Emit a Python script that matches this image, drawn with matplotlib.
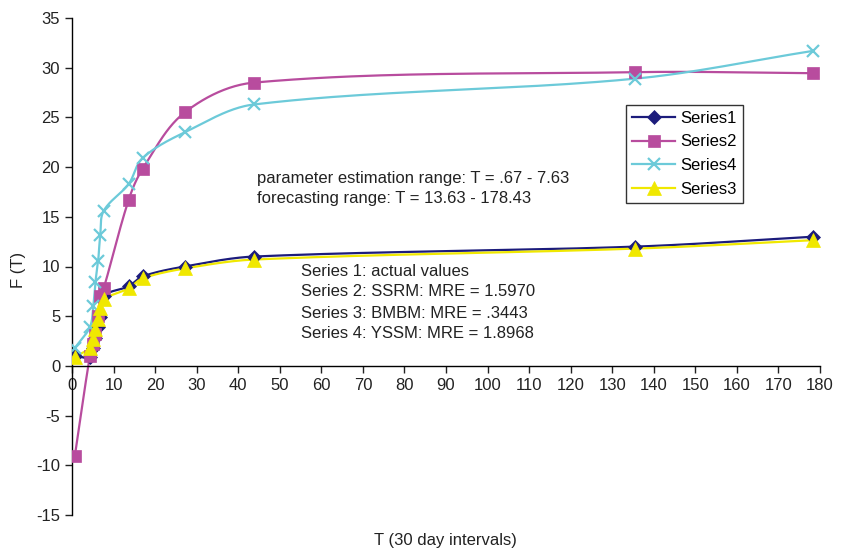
#!/usr/bin/env python3
"""
forecast comparison plot

actual values vs three fitted models
"""

import numpy as np
import matplotlib
matplotlib.use('Agg')
import matplotlib.pyplot as plt

plt.rcParams['font.family'] = ['Liberation Sans', 'DejaVu Sans']
plt.rcParams['axes.unicode_minus'] = False

t_values = [0.67, 4.3, 5.13, 5.63, 6.3, 6.8, 7.63,
            13.63, 16.97, 27.13, 43.77, 135.6, 178.43]
series1 = [1.0, 0.9, 1.8, 2.8, 3.9, 4.9, 7.0,
           8.0, 9.0, 10.0, 11.0, 12.0, 13.0]
series2 = [-9.1, 1.0, 2.2, 3.2, 5.0, 7.0, 7.8,
           16.7, 19.8, 25.5, 28.5, 29.55, 29.45]
series4 = [1.8, 3.9, 6.05, 8.4, 10.6, 13.2, 15.6,
           18.3, 20.9, 23.5, 26.3, 28.9, 31.7]
series3 = [0.9, 1.8, 2.7, 3.7, 4.7, 5.8, 6.7,
           7.8, 8.8, 9.8, 10.7, 11.8, 12.65]

notes_top = ['parameter estimation range: T = .67 - 7.63',
             'forecasting range: T = 13.63 - 178.43']
notes_bottom = ['Series 1: actual values',
                'Series 2: SSRM: MRE = 1.5970',
                'Series 3: BMBM: MRE = .3443',
                'Series 4: YSSM: MRE = 1.8968']

# pixel per data unit, used so smoothing happens in screen space
SX, SY = 748 / 180, 497 / 50


def smooth(x, y, steps=40):
    """
    bezier curve through the points, tangents from neighbours,
    handle length proportional to segment length (screen space)
    """
    p = np.column_stack([np.asarray(x, float) * SX, np.asarray(y, float) * SY])
    n = len(p)
    tang = np.zeros_like(p)
    for i in range(n):
        a = p[max(i - 1, 0)]
        b = p[min(i + 1, n - 1)]
        d = b - a
        tang[i] = d / np.hypot(*d)
    s = np.linspace(0, 1, steps)[:, None]
    pts = []
    for i in range(n - 1):
        p1, p2 = p[i], p[i + 1]
        seg = np.hypot(*(p2 - p1))
        c1 = p1 + tang[i] * seg / 3
        c2 = p2 - tang[i + 1] * seg / 3
        b = ((1 - s) ** 3 * p1 + 3 * (1 - s) ** 2 * s * c1
             + 3 * (1 - s) * s ** 2 * c2 + s ** 3 * p2)
        pts.append(b)
    pts = np.vstack(pts)
    return pts[:, 0] / SX, pts[:, 1] / SY


W, H = 843, 548
fig = plt.figure(figsize=(W / 100, H / 100), dpi=100)
ax = fig.add_axes([72 / W, 1 - 515 / H, 748 / W, 497 / H])

styles = [
    ('Series1', series1, '#1c1c7c', 'D', 7),
    ('Series2', series2, '#b84c9e', 's', 8),
    ('Series4', series4, '#6ccad9', 'x', 9),
    ('Series3', series3, '#f0e800', '^', 10),
]

for name, vals, color, marker, msize in styles:
    sx, sy = smooth(t_values, vals)
    mew = 1.6 if marker == 'x' else 0.5
    ax.plot(sx, sy, color=color, lw=1.6, zorder=2)
    ax.plot(t_values, vals, linestyle='none', marker=marker, markersize=msize,
            color=color, markeredgewidth=mew, zorder=3)
    ax.plot([], [], color=color, lw=1.6, marker=marker, markersize=msize,
            markeredgewidth=mew, label=name)

ax.set_xlim(0, 180)
ax.set_ylim(-15, 35)
ax.set_xticks(np.arange(0, 181, 10))
ax.set_yticks(np.arange(-15, 36, 5))
ax.spines['top'].set_visible(False)
ax.spines['right'].set_visible(False)
ax.spines['bottom'].set_position(('data', 0))
ax.spines['left'].set_linewidth(1.0)
ax.spines['bottom'].set_linewidth(1.0)
ax.tick_params(direction='out', length=5, width=1.0, labelsize=12,
               colors='#222222')

fig.text(445 / W, 1 - 540 / H, 'T (30 day intervals)', ha='center',
         va='center', fontsize=12, color='#222222')
fig.text(18 / W, 1 - 270 / H, 'F (T)', ha='center', va='center',
         rotation=90, fontsize=12, color='#222222')

for i, line in enumerate(notes_top):
    fig.text(257 / W, 1 - (178 + 21 * i) / H, line, ha='left', va='center',
             fontsize=12, color='#222222')
for i, line in enumerate(notes_bottom):
    fig.text(301 / W, 1 - (271 + 21 * i) / H, line, ha='left', va='center',
             fontsize=12, color='#222222')

leg = ax.legend(loc='upper left', bbox_to_anchor=(626 / W, 1 - 105 / H),
                bbox_transform=fig.transFigure, fancybox=False,
                edgecolor='#333333', framealpha=1, fontsize=12,
                handlelength=2.6, handletextpad=0.3, borderpad=0.35,
                labelspacing=0.52, borderaxespad=0)
leg.get_frame().set_linewidth(1.0)

fig.savefig('out.png', dpi=100)
